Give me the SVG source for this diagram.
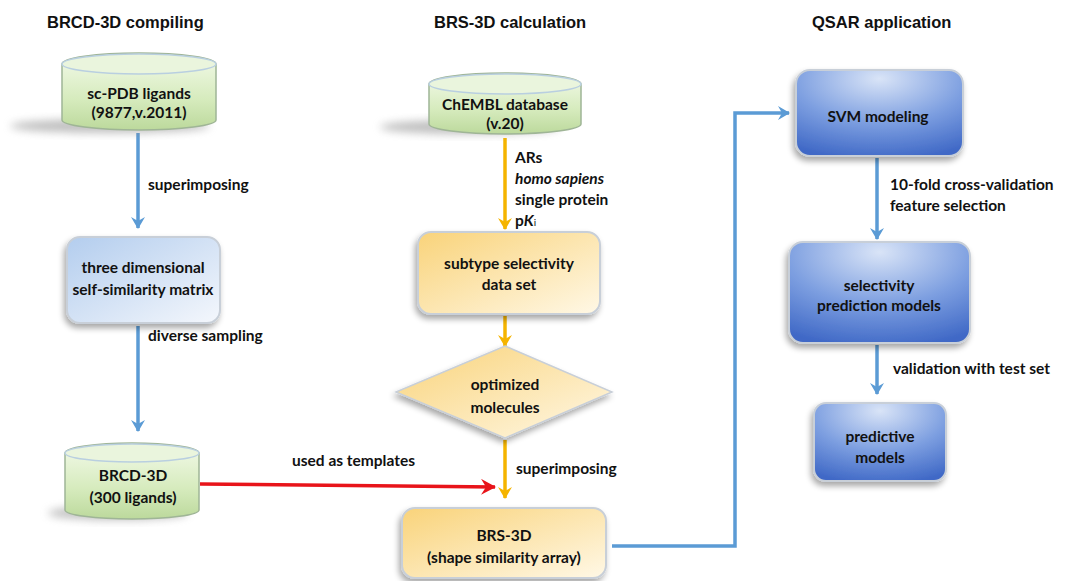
<svg xmlns="http://www.w3.org/2000/svg" width="1069" height="581" viewBox="0 0 1069 581">
<defs>
<linearGradient id="gGreen" x1="0" y1="0" x2="0" y2="1">
<stop offset="0" stop-color="#f3faea"/><stop offset="0.6" stop-color="#d6ebbd"/><stop offset="1" stop-color="#bcd99c"/>
</linearGradient>
<linearGradient id="gLBlue" x1="0" y1="0" x2="1" y2="1">
<stop offset="0" stop-color="#b3cdee"/><stop offset="1" stop-color="#f4f7fc"/>
</linearGradient>
<linearGradient id="gOrange" x1="0" y1="0" x2="1" y2="1">
<stop offset="0" stop-color="#f9d37a"/><stop offset="1" stop-color="#fff8e6"/>
</linearGradient>
<radialGradient id="gDBlue" cx="0.5" cy="0.1" r="0.95">
<stop offset="0" stop-color="#d9e4f7"/><stop offset="0.55" stop-color="#7c9ee0"/><stop offset="1" stop-color="#3f68c6"/>
</radialGradient>
<filter id="sh" x="-30%" y="-30%" width="160%" height="170%">
<feGaussianBlur in="SourceAlpha" stdDeviation="3"/><feOffset dx="-2" dy="4"/>
<feComponentTransfer><feFuncA type="linear" slope="0.35"/></feComponentTransfer>
<feMerge><feMergeNode/><feMergeNode in="SourceGraphic"/></feMerge>
</filter>
<filter id="cylsh" x="-50%" y="-50%" width="200%" height="200%">
<feGaussianBlur stdDeviation="4"/>
</filter>
<marker id="aBlue" markerWidth="14" markerHeight="14" refX="11" refY="7" orient="auto" markerUnits="userSpaceOnUse">
<path d="M0,0 L12,7 L0,14 L4,7 Z" fill="#5b9bd5"/>
</marker>
<marker id="aOr" markerWidth="14" markerHeight="14" refX="11" refY="7" orient="auto" markerUnits="userSpaceOnUse">
<path d="M0,0 L12,7 L0,14 L4,7 Z" fill="#f5b400"/>
</marker>
<marker id="aRed" markerWidth="16" markerHeight="16" refX="14" refY="8" orient="auto" markerUnits="userSpaceOnUse">
<path d="M0,0 L15,8 L0,16 L5,8 Z" fill="#e8141a"/>
</marker>
<style>
.h{font-family:"Liberation Sans",Arial,sans-serif;font-weight:bold;font-size:16.5px;fill:#111;}
.t{font-family:Lato,"Open Sans",sans-serif;font-weight:bold;font-size:15.5px;fill:#111;text-anchor:middle;}
.l{font-family:Lato,"Open Sans",sans-serif;font-weight:bold;font-size:15.5px;fill:#111;}
.cyl{fill:url(#gGreen);stroke:#9fb596;stroke-width:1.5;}
.cyltop{fill:#eaf5dd;stroke:#b9cfe0;stroke-width:1.5;}
.cshadow{fill:#8a8a8a;opacity:0.55;}
.bb{stroke:#c8cfd8;stroke-width:2;}
.cb{fill:none;stroke:#5b9bd5;stroke-width:3.5;}
.co{fill:none;stroke:#f5b400;stroke-width:3.5;}
.cr{fill:none;stroke:#e8141a;stroke-width:3.5;}
</style>
</defs>
<rect width="1069" height="581" fill="#fff"/>

<text class="h" x="47" y="28">BRCD-3D compiling</text>
<text class="h" x="434" y="28">BRS-3D calculation</text>
<text class="h" x="812" y="28">QSAR application</text>

<g id="connectors">
<line class="cb" x1="138" y1="133" x2="138" y2="228" marker-end="url(#aBlue)"/>
<line class="cb" x1="138" y1="326" x2="138" y2="431" marker-end="url(#aBlue)"/>
<line class="cr" x1="200" y1="484" x2="495" y2="487" marker-end="url(#aRed)"/>
<line class="co" x1="505" y1="138" x2="505" y2="229" marker-end="url(#aOr)"/>
<line class="co" x1="505" y1="316" x2="505" y2="346" marker-end="url(#aOr)"/>
<line class="co" x1="505" y1="440" x2="505" y2="498" marker-end="url(#aOr)"/>
<polyline class="cb" points="612,546 735,546 735,113 789,113" marker-end="url(#aBlue)"/>
<line class="cb" x1="877" y1="158" x2="877" y2="239" marker-end="url(#aBlue)"/>
<line class="cb" x1="877" y1="345" x2="877" y2="394" marker-end="url(#aBlue)"/>
<text class="l" x="148" y="190">superimposing</text>
<text class="l" x="148" y="341">diverse sampling</text>
<text class="l" x="292" y="466">used as templates</text>
<text class="l" x="515" y="163">ARs</text>
<text class="l" x="515" y="184" font-style="italic">homo sapiens</text>
<text class="l" x="515" y="205">single protein</text>
<text class="l" x="515" y="226">p<tspan font-style="italic">K</tspan><tspan font-size="10" font-weight="normal">i</tspan></text>
<text class="l" x="516" y="474">superimposing</text>
<text class="l" x="890" y="190">10-fold cross-validation</text>
<text class="l" x="890" y="211">feature selection</text>
<text class="l" x="893" y="374">validation with test set</text>
</g>

<g id="scpdb">
<ellipse class="cshadow" cx="110" cy="126" rx="100" ry="7" filter="url(#cylsh)"/>
<path class="cyl" d="M62,64 A77,11 0 0 1 216,64 L216,120 A77,10 0 0 1 62,120 Z"/>
<ellipse class="cyltop" cx="139" cy="64" rx="77" ry="10"/>
<text class="t" x="139" y="99">sc-PDB ligands</text>
<text class="t" x="139" y="118">(9877,v.2011)</text>
</g>

<g id="selfsim">
<rect class="bb" x="67" y="237" width="153" height="86" rx="13" fill="url(#gLBlue)" filter="url(#sh)"/>
<text class="t" x="143" y="273">three dimensional</text>
<text class="t" x="143" y="295">self-similarity matrix</text>
</g>

<g id="brcd">
<ellipse class="cshadow" cx="118" cy="513" rx="70" ry="7" filter="url(#cylsh)"/>
<path class="cyl" d="M65,453 A67,10 0 0 1 199,453 L199,510 A67,9 0 0 1 65,510 Z"/>
<ellipse class="cyltop" cx="132" cy="453" rx="67" ry="9"/>
<text class="t" x="133" y="481">BRCD-3D</text>
<text class="t" x="133" y="503">(300 ligands)</text>
</g>

<g id="chembl">
<ellipse class="cshadow" cx="470" cy="127" rx="90" ry="7" filter="url(#cylsh)"/>
<path class="cyl" d="M429,84 A76,11 0 0 1 581,84 L581,124 A76,10 0 0 1 429,124 Z"/>
<ellipse class="cyltop" cx="505" cy="84" rx="76" ry="10"/>
<text class="t" x="505" y="110">ChEMBL database</text>
<text class="t" x="505" y="129">(v.20)</text>
</g>

<g id="subtype">
<rect class="bb" x="418" y="232" width="182" height="82" rx="13" fill="url(#gOrange)" filter="url(#sh)"/>
<text class="t" x="509" y="269">subtype selectivity</text>
<text class="t" x="509" y="290">data set</text>
</g>

<g id="optimized">
<polygon points="505,346 612,392 505,438 396,392" fill="url(#gOrange)" stroke="#c8cfd8" stroke-width="1.5" filter="url(#sh)"/>
<text class="t" x="505" y="390">optimized</text>
<text class="t" x="505" y="413">molecules</text>
</g>

<g id="brs3d">
<rect class="bb" x="402" y="508" width="204" height="70" rx="13" fill="url(#gOrange)" filter="url(#sh)"/>
<text class="t" x="504" y="541">BRS-3D</text>
<text class="t" x="504" y="563">(shape similarity array)</text>
</g>

<g id="svm">
<rect class="bb" x="796" y="70" width="167" height="86" rx="14" fill="url(#gDBlue)" filter="url(#sh)"/>
<text class="t" x="878" y="122">SVM modeling</text>
</g>

<g id="selpred">
<rect class="bb" x="789" y="242" width="181" height="101" rx="14" fill="url(#gDBlue)" filter="url(#sh)"/>
<text class="t" x="879" y="291">selectivity</text>
<text class="t" x="879" y="311">prediction models</text>
</g>

<g id="predictive">
<rect class="bb" x="814" y="403" width="132" height="78" rx="12" fill="url(#gDBlue)" filter="url(#sh)"/>
<text class="t" x="880" y="442">predictive</text>
<text class="t" x="880" y="463">models</text>
</g>
</svg>
